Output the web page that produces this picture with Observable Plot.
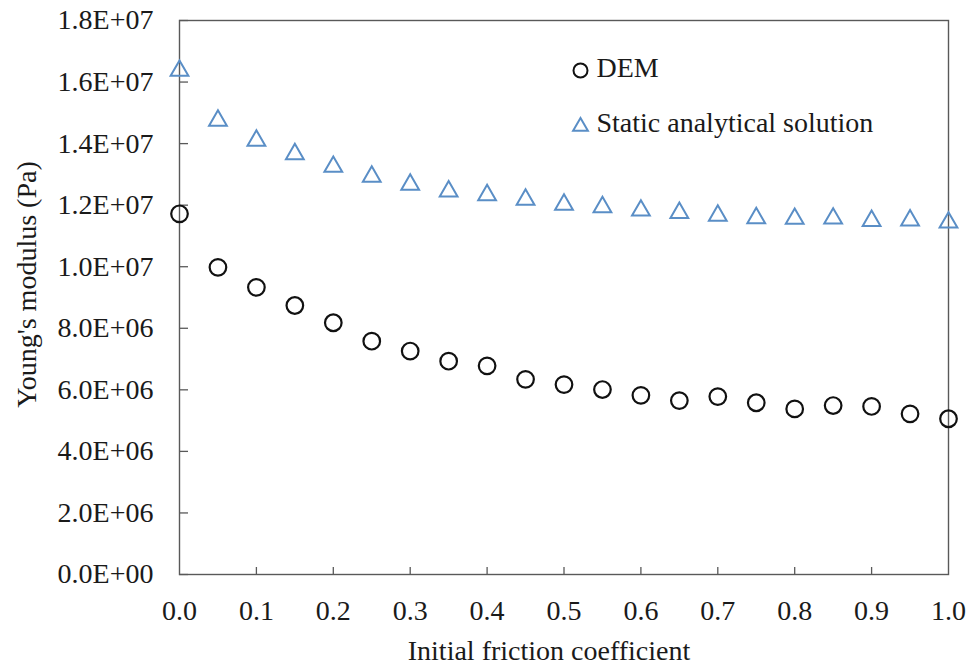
<!DOCTYPE html>
<html>
<head>
<meta charset="utf-8">
<script src="https://cdn.jsdelivr.net/npm/d3@7"></script>
<script src="https://cdn.jsdelivr.net/npm/@observablehq/plot@0.6"></script>
<style>
  html, body { margin: 0; padding: 0; background: #fff; }
  #chart { width: 969px; height: 669px; }
</style>
</head>
<body>
<div id="chart"></div>
<script>
const friction = [0, 0.05, 0.1, 0.15, 0.2, 0.25, 0.3, 0.35, 0.4, 0.45, 0.5, 0.55, 0.6, 0.65, 0.7, 0.75, 0.8, 0.85, 0.9, 0.95, 1.0];
const demValues = [1.172e7, 9.98e6, 9.33e6, 8.74e6, 8.18e6, 7.58e6, 7.26e6, 6.93e6, 6.78e6, 6.34e6, 6.17e6, 6.01e6, 5.82e6, 5.65e6, 5.78e6, 5.58e6, 5.38e6, 5.49e6, 5.46e6, 5.22e6, 5.06e6];
const staticValues = [1.637e7, 1.475e7, 1.410e7, 1.366e7, 1.325e7, 1.293e7, 1.267e7, 1.245e7, 1.233e7, 1.218e7, 1.202e7, 1.194e7, 1.183e7, 1.175e7, 1.166e7, 1.158e7, 1.156e7, 1.157e7, 1.149e7, 1.151e7, 1.144e7];
const seriesNames = ["DEM", "Static analytical solution"];
const yTicks = [0, 2e6, 4e6, 6e6, 8e6, 1e7, 1.2e7, 1.4e7, 1.6e7, 1.8e7];
const yTickLabels = ["0.0E+00", "2.0E+06", "4.0E+06", "6.0E+06", "8.0E+06", "1.0E+07", "1.2E+07", "1.4E+07", "1.6E+07", "1.8E+07"];
const xTicks = [0, 0.1, 0.2, 0.3, 0.4, 0.5, 0.6, 0.7, 0.8, 0.9, 1.0];
const xTickLabels = ["0.0", "0.1", "0.2", "0.3", "0.4", "0.5", "0.6", "0.7", "0.8", "0.9", "1.0"];
const xTitle = "Initial friction coefficient";
const yTitle = "Young's modulus (Pa)";

const demData = friction.map((f, i) => ({x: f, y: demValues[i]}));
const staticData = friction.map((f, i) => ({x: f, y: staticValues[i]}));
const innerXTicks = xTicks.slice(1, -1);

const FONT = "Liberation Serif, Times New Roman, serif";
const FS = 28;
const BLUE = "#5a8ec6";
const AXIS = "#595959";
const INK = "#1a1a1a";

const chart = Plot.plot({
  width: 969,
  height: 669,
  marginLeft: 179,
  marginRight: 21,
  marginTop: 20,
  marginBottom: 95,
  style: {fontFamily: FONT, fontSize: FS + "px", background: "#fff", color: INK},
  x: {domain: [0, 1]},
  y: {domain: [0, 1.8e7]},
  marks: [
    // y tick labels
    Plot.axisY({ticks: yTicks, tickFormat: (d) => yTickLabels[yTicks.indexOf(d)], tickSize: 0, tickPadding: 26, label: null, fontSize: FS, fontFamily: FONT, fill: INK}),
    // y inward ticks
    Plot.axisY({ticks: yTicks, tickFormat: () => "", tickSize: 9, dx: 9, stroke: AXIS, strokeWidth: 1.3, label: null}),
    // x tick labels
    Plot.axisX({ticks: xTicks, tickFormat: (d) => xTickLabels[xTicks.indexOf(d)], tickSize: 0, tickPadding: 26, label: null, fontSize: FS, fontFamily: FONT, fill: INK}),
    // x inward ticks
    Plot.axisX({ticks: innerXTicks, tickFormat: () => "", tickSize: 7, dy: -7, stroke: AXIS, strokeWidth: 1.3, label: null}),
    Plot.frame({stroke: AXIS, strokeWidth: 1.4}),
    // axis titles
    Plot.text([xTitle], {frameAnchor: "bottom", textAnchor: "middle", lineAnchor: "middle", dy: 77, dx: -15, text: (d) => d, fontSize: FS, fontFamily: FONT, fill: INK}),
    Plot.text([yTitle], {frameAnchor: "left", textAnchor: "middle", lineAnchor: "middle", rotate: -90, dx: -152, dy: -13, text: (d) => d, fontSize: FS, fontFamily: FONT, fill: INK}),
    // data
    Plot.dot(staticData, {x: "x", y: "y", symbol: "triangle", r: 6.6, stroke: BLUE, strokeWidth: 2, fill: "none"}),
    Plot.dot(demData, {x: "x", y: "y", symbol: "circle", r: 8.3, stroke: "#111", strokeWidth: 2.2, fill: "none"}),
    // legend
    Plot.dot([seriesNames[0]], {frameAnchor: "top-left", dx: 401, dy: 50, symbol: "circle", r: 7, stroke: "#111", strokeWidth: 2, fill: "none"}),
    Plot.text([seriesNames[0]], {frameAnchor: "top-left", dx: 417, dy: 48, text: (d) => d, textAnchor: "start", lineAnchor: "middle", fontSize: FS, fontFamily: FONT, fill: INK}),
    Plot.dot([seriesNames[1]], {frameAnchor: "top-left", dx: 401, dy: 106, symbol: "triangle", r: 5.5, stroke: BLUE, strokeWidth: 2, fill: "none"}),
    Plot.text([seriesNames[1]], {frameAnchor: "top-left", dx: 417, dy: 103, text: (d) => d, textAnchor: "start", lineAnchor: "middle", fontSize: FS, fontFamily: FONT, fill: INK})
  ]
});
document.getElementById("chart").appendChild(chart);
</script>
</body>
</html>
